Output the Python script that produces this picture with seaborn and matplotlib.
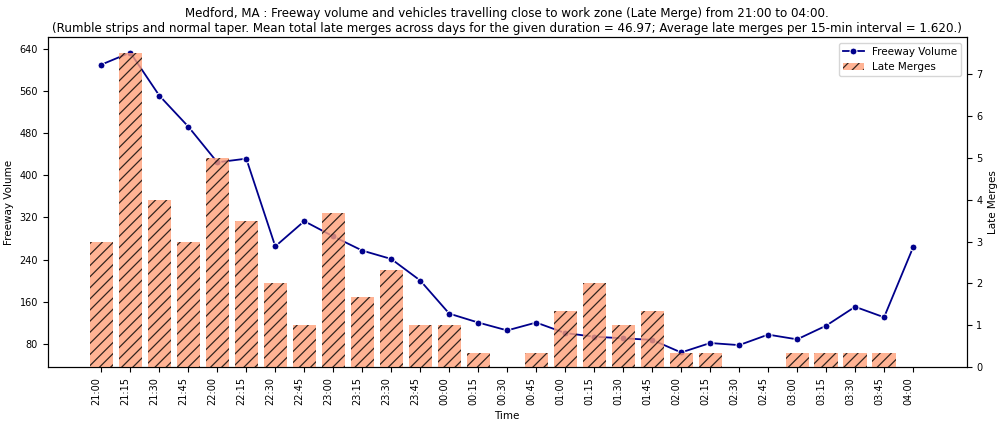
import numpy as np
import pandas as pd
import matplotlib
matplotlib.use('Agg')
import matplotlib.pyplot as plt
import seaborn as sb

# 15-min intervals for the work zone window
times = ['21:00', '21:15', '21:30', '21:45', '22:00', '22:15', '22:30', '22:45',
         '23:00', '23:15', '23:30', '23:45', '00:00', '00:15', '00:30', '00:45',
         '01:00', '01:15', '01:30', '01:45', '02:00', '02:15', '02:30', '02:45',
         '03:00', '03:15', '03:30', '03:45', '04:00']
freeway_volume = [611, 634, 552, 493, 425, 432, 265, 313, 284, 257, 241, 200,
                  137, 120, 105, 120, 100, 93, 90, 87, 63, 81, 77, 97,
                  88, 114, 150, 130, 263]
late_merges = [3.0, 7.5, 4.0, 3.0, 5.0, 3.5, 2.0, 1.0, 3.67, 1.67, 2.33, 1.0,
               1.0, 0.33, 0.0, 0.33, 1.33, 2.0, 1.0, 1.33, 0.33, 0.33, 0.0, 0.0,
               0.33, 0.33, 0.33, 0.33, 0.0]

title = ('Medford, MA : Freeway volume and vehicles travelling close to work zone (Late Merge) from 21:00 to 04:00.\n'
         '(Rumble strips and normal taper. Mean total late merges across days for the given duration = 46.97; '
         'Average late merges per 15-min interval = 1.620.)')

df = pd.DataFrame({'Time': times, 'Freeway Volume': freeway_volume, 'Late Merges': late_merges})
df['pos'] = np.arange(len(df))

plt.rcParams['hatch.linewidth'] = 0.9

fig = plt.figure(figsize=(10, 4.24), dpi=100)
ax1 = fig.add_axes([0.0477, 0.134, 0.919, 0.778])

sb.lineplot(data=df, x='pos', y='Freeway Volume', color='darkblue', marker='o',
            markersize=5, linewidth=1.3, ax=ax1, label='Freeway Volume', legend=False)

ax2 = ax1.twinx()
sb.barplot(data=df, x='Time', y='Late Merges', color='lightsalmon', alpha=0.8,
           width=0.8, saturation=1, ax=ax2, label='Late Merges')
# hatch is drawn in the edge colour, so keep the edge black but zero width
for p in ax2.patches:
    p.set_hatch('///')
    p.set_edgecolor('black')
    p.set_linewidth(0)

ax1.set_xticks(df['pos'])
ax1.set_xticklabels(times, rotation=90, ha='right', fontsize=7)
ax1.set_xlim(-1.85, 29.85)
ax1.set_ylim(35, 663)
ax1.set_yticks(np.arange(80, 641, 80))
ax1.tick_params(axis='y', labelsize=7)
ax1.set_xlabel('Time', fontsize=7.5)
ax1.set_ylabel('Freeway Volume', fontsize=7.5)

ax2.set_ylim(0, 7.875)
ax2.tick_params(axis='y', labelsize=7)
ax2.set_ylabel('Late Merges', fontsize=7.5)

h1, l1 = ax1.get_legend_handles_labels()
h2, l2 = ax2.get_legend_handles_labels()
ax2.legend(h1 + h2, l1 + l2, loc='upper right', fontsize=7.5)

ax1.set_title(title, fontsize=8.6, pad=4)

fig.savefig('out.png', dpi=100)
